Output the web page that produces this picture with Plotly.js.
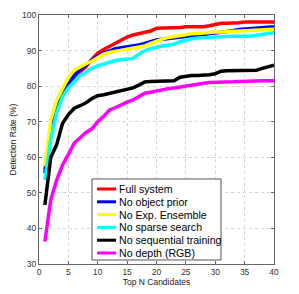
<!DOCTYPE html>
<html><head><meta charset="utf-8">
<script src="https://cdn.plot.ly/plotly-3.0.1.min.js"></script>
<style>html,body{margin:0;padding:0;background:#fff}#chart{width:299px;height:294px}</style>
</head><body><div id="chart"></div>
<script>
var topN = [];
for (var i = 1; i <= 40; i++) topN.push(i);

var seriesNames = ["Full system", "No object prior", "No Exp. Ensemble", "No sparse search", "No sequential training", "No depth (RGB)"];
var seriesColors = ["#ff0000", "#0000ff", "#ffff00", "#00ffff", "#000000", "#ff00ff"];

var fullSystem = [56.5,67,74,78,80.5,82.5,84,85.5,87.5,89.3,90.3,91.2,92.2,93,93.8,94.4,94.8,95,95.5,96.3,96.3,96.3,96.3,96.5,96.7,96.7,96.7,96.7,97,97.3,97.7,97.7,97.7,97.8,98,98,98,98,98,98];
var noObjectPrior = [55.5,67,74,78,80.5,83,84.7,86,87.5,88.5,89.3,90,90.5,90.8,91,91.3,91.6,92,92.5,93,93.2,93.4,93.6,93.8,94,94.1,94.3,94.5,94.6,94.8,95,95.4,95.6,95.9,96,96.2,96.3,96.5,96.6,96.7];
var noExpEnsemble = [57.5,70.5,76,79.5,82.5,84.5,85.5,86.3,87,88,89,89.5,89.8,90,90.2,90.5,91,91.3,92,92.7,93.2,93.7,94,94.3,94.6,94.7,94.8,95,95,95.2,95.2,95.3,95.3,95.3,95.4,95.5,95.7,95.8,96,96];
var noSparseSearch = [53.6,65,72.5,77,79.5,81.3,83,84,85,85.7,86.2,86.7,87.2,87.4,87.5,87.8,89,90,90.5,91,91.3,91.5,91.8,92.5,93,93.3,93.5,93.6,93.7,93.8,94,94,94,94,94,94,94.3,94.6,94.8,95];
var noSequentialTraining = [46.6,60,63.5,69.5,72,73.8,74.5,75.3,76.5,77.3,77.6,78,78.5,78.8,79.2,79.5,80.3,81.2,81.3,81.3,81.3,81.3,81.5,82.5,82.8,83,83,83,83.2,83.5,84.2,84.3,84.3,84.3,84.3,84.3,84.5,85,85.5,85.9];
var noDepthRGB = [36.3,48,53.6,57.8,60.8,64,65.5,67,68,70,71.5,73.3,74,74.8,75.5,76.1,77,78,78.3,78.7,79,79.3,79.5,79.8,80,80.3,80.5,80.8,81,81,81,81.2,81.2,81.3,81.4,81.5,81.5,81.5,81.5,81.5];

var xTicks = [0,5,10,15,20,25,30,35,40];
var yTicks = [30,40,50,60,70,80,90,100];

var allSeries = [fullSystem, noObjectPrior, noExpEnsemble, noSparseSearch, noSequentialTraining, noDepthRGB];

var traces = allSeries.map(function(vals, k){
  return {x: topN, y: vals, type: 'scatter', mode: 'lines', name: seriesNames[k],
          line: {color: seriesColors[k], width: 3.5}, showlegend: false, hoverinfo: 'skip'};
});

// manual legend (paper coords)
var shapes = [{type:'rect', xref:'paper', yref:'paper', x0:0.2255, x1:0.7745, y0:0.0161, y1:0.3414,
               fillcolor:'#ffffff', line:{color:'#555555', width:1}, layer:'above'}];
var annotations = [];
var rowTop = 0.3012, rowStep = 0.0514;
seriesNames.forEach(function(nm, k){
  var yy = rowTop - k*rowStep;
  shapes.push({type:'line', xref:'paper', yref:'paper', x0:0.247, x1:0.328, y0:yy, y1:yy,
               line:{color:seriesColors[k], width:3}, layer:'above'});
  annotations.push({xref:'paper', yref:'paper', x:0.333, y:yy, xanchor:'left', yanchor:'middle',
                    text:nm, showarrow:false, font:{family:'Arial, Liberation Sans, sans-serif', size:10.6, color:'#000'}});
});

var axisCommon = {showline:true, linecolor:'#666666', linewidth:1, mirror:'ticks', ticks:'inside', ticklen:3,
                  tickcolor:'#666666', showgrid:true, gridcolor:'#d4d4d4', griddash:'dot', gridwidth:1,
                  zeroline:false, tickfont:{family:'Arial, Liberation Sans, sans-serif', size:8.5, color:'#333'}};

var layout = {
  width:299, height:294, margin:{l:39, r:25, t:15, b:30},
  paper_bgcolor:'#ffffff', plot_bgcolor:'#ffffff', showlegend:false,
  xaxis: Object.assign({}, axisCommon, {range:[0,40], tickvals:xTicks, ticktext:xTicks.map(String),
          title:{text:'Top N Candidates', standoff:2, font:{family:'Arial, Liberation Sans, sans-serif', size:8.5, color:'#222'}}}),
  yaxis: Object.assign({}, axisCommon, {range:[30,100], tickvals:yTicks, ticktext:yTicks.map(String),
          title:{text:'Detection Rate (%)', standoff:4, font:{family:'Arial, Liberation Sans, sans-serif', size:8.5, color:'#222'}}}),
  shapes: shapes, annotations: annotations
};

Plotly.newPlot('chart', traces, layout, {staticPlot:true, displayModeBar:false});
</script></body></html>
